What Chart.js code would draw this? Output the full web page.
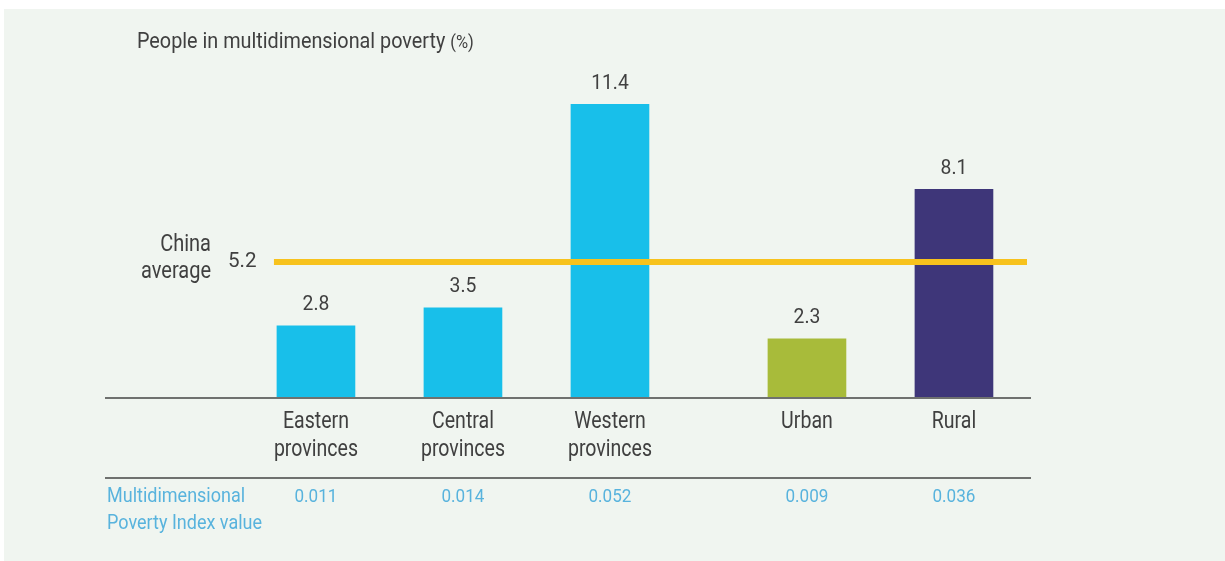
<!DOCTYPE html>
<html>
<head>
<meta charset="utf-8">
<script src="https://cdn.jsdelivr.net/npm/chart.js@4.4.1/dist/chart.umd.min.js"></script>
<style>
  html, body { margin: 0; padding: 0; background: #fff; }
  #wrap { position: relative; width: 1225px; height: 561px; }
</style>
</head>
<body>
<div id="wrap"><canvas id="c" width="1225" height="561"></canvas></div>
<script>
// data
const categories = [['Eastern', 'provinces'], ['Central', 'provinces'], ['Western', 'provinces'], ['Urban'], ['Rural']];
const groups = ['region', 'region', 'region', 'area', 'area'];
const poverty = [2.8, 3.5, 11.4, 2.3, 8.1];
const mpiValues = ['0.011', '0.014', '0.052', '0.009', '0.036'];
const chinaAverage = 5.2;
const barColors = ['#18bfea', '#18bfea', '#18bfea', '#a8bb3a', '#3e3679'];

const GROUP_GAP = 0.34;
const DARK = '#404040';
const BLUE = '#58b3dd';

// slot position on the x scale: index plus a small gap between the two groups
const slots = categories.map((_, i) => i + (groups[i] !== groups[0] ? GROUP_GAP : 0));
const points = poverty.map((v, i) => ({ x: slots[i], y: v }));

// the original uses a condensed face, so squeeze Roboto a bit
function txt(ctx, s, x, y, size, color, align, sx) {
  ctx.save();
  ctx.font = size + 'px Roboto';
  ctx.fillStyle = color;
  ctx.textAlign = align;
  ctx.textBaseline = 'middle';
  ctx.translate(x, y);
  ctx.scale(sx, 1);
  ctx.fillText(s, 0, 0);
  const w = ctx.measureText(s).width * sx;
  ctx.restore();
  return w;
}

const extras = {
  id: 'extras',
  beforeDraw(chart) {
    const { ctx, width, height } = chart;
    ctx.save();
    ctx.fillStyle = '#fff';
    ctx.fillRect(0, 0, width, height);
    ctx.fillStyle = '#f0f5f0';
    ctx.fillRect(4, 9, width - 4, height - 9);
    ctx.restore();
  },
  afterDatasetsDraw(chart) {
    const { ctx, chartArea: a, scales: { x, y } } = chart;
    ctx.save();

    // axis lines
    ctx.strokeStyle = '#6f716f';
    ctx.lineWidth = 2;
    ctx.beginPath();
    ctx.moveTo(a.left, a.bottom); ctx.lineTo(a.right, a.bottom);
    ctx.moveTo(a.left, a.bottom + 80); ctx.lineTo(a.right, a.bottom + 80);
    ctx.stroke();

    // china average
    const ay = y.getPixelForValue(chinaAverage) - 2;
    ctx.strokeStyle = '#f7c21d';
    ctx.lineWidth = 6;
    ctx.beginPath();
    ctx.moveTo(x.getPixelForValue(slots[0]) - 42, ay);
    ctx.lineTo(a.right - 4, ay);
    ctx.stroke();
    ctx.restore();

    txt(ctx, 'China', 211, ay - 17, 23, DARK, 'right', 0.87);
    txt(ctx, 'average', 211, ay + 10, 23, DARK, 'right', 0.87);
    txt(ctx, String(chinaAverage), 228, ay, 21, DARK, 'left', 0.98);

    // title
    const tw = txt(ctx, 'People in multidimensional poverty ', 137, 42, 22, DARK, 'left', 0.9);
    txt(ctx, '(%)', 137 + tw, 43, 18, DARK, 'left', 0.92);

    // value labels, category labels and MPI row
    const meta = chart.getDatasetMeta(0);
    meta.data.forEach((bar, i) => {
      txt(ctx, poverty[i].toFixed(1), bar.x, bar.y - 21, 21, DARK, 'center', 0.92);
      categories[i].forEach((line, j) => txt(ctx, line, bar.x, a.bottom + 24 + j * 28, 23, DARK, 'center', 0.85));
      txt(ctx, mpiValues[i], bar.x, a.bottom + 99, 18, BLUE, 'center', 0.95);
    });
    txt(ctx, 'Multidimensional', 107, a.bottom + 99, 20, BLUE, 'left', 0.9);
    txt(ctx, 'Poverty Index value', 107, a.bottom + 126, 20, BLUE, 'left', 0.9);
  }
};

new Chart(document.getElementById('c'), {
  type: 'bar',
  data: {
    datasets: [{
      data: points,
      backgroundColor: barColors,
      barThickness: 78,
    }],
  },
  options: {
    responsive: false,
    animation: false,
    layout: { padding: { left: 105, right: 194, top: 76, bottom: 163 } },
    plugins: { legend: { display: false }, tooltip: { enabled: false } },
    scales: {
      x: { type: 'linear', display: false, offset: false, min: -1.435, max: 4.864 },
      y: { display: false, min: 0, max: 12.5 },
    },
  },
  plugins: [extras],
});
</script>
</body>
</html>
